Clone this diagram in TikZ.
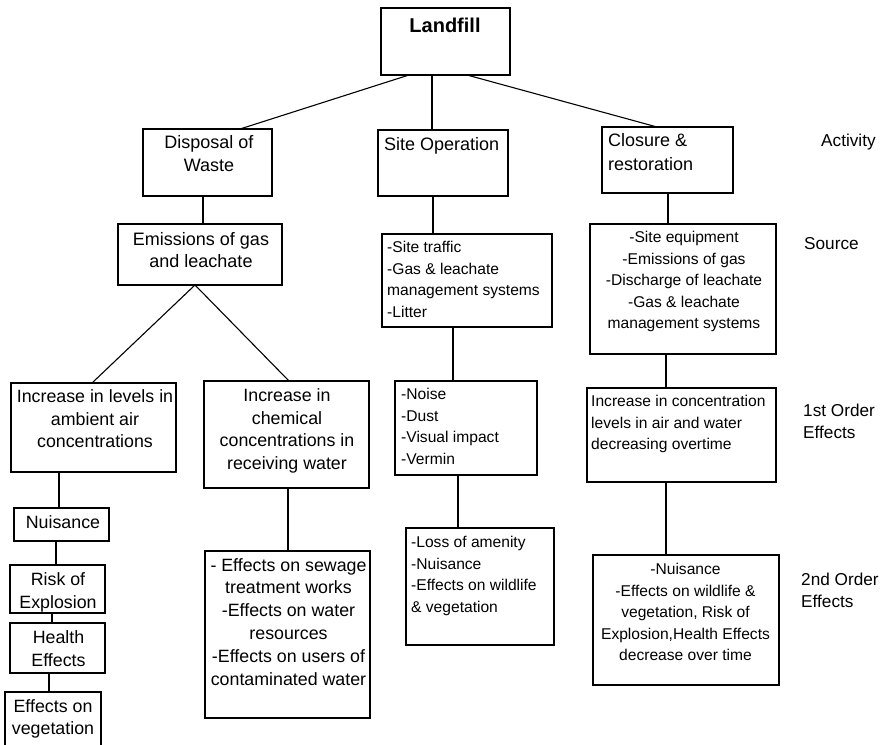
\documentclass[tikz,border=0pt]{standalone}
\usepackage{fontspec}
\setmainfont{Liberation Sans}
\begin{document}
\begin{tikzpicture}[x=1pt,y=-1pt,
  box/.style={draw, line width=1.2pt, rectangle, inner sep=0pt, outer sep=0pt, anchor=north west},
  link/.style={line width=1.1pt},
  head/.style={font=\fontsize{20}{24}\selectfont\bfseries, inner sep=0pt, anchor=north},
  activity/.style={font=\fontsize{18}{24}\selectfont, inner sep=0pt, align=left, anchor=north west},
  big/.style={font=\fontsize{17.8}{22.9}\selectfont, inner sep=0pt, align=center, anchor=north},
  list/.style={font=\fontsize{15.6}{21.5}\selectfont, inner sep=0pt, align=left, anchor=north west},
  clist/.style={font=\fontsize{15.6}{21.5}\selectfont, inner sep=0pt, align=center, anchor=north},
  level/.style={font=\fontsize{17.2}{21.7}\selectfont, inner sep=0pt, align=left, anchor=north west}]

\path[use as bounding box, clip] (0,0) rectangle (883,744);

% ---- boxes ----
\node[box, minimum width=129pt, minimum height=67pt] (landfill)   at (381,8)   {};
\node[box, minimum width=129pt, minimum height=67pt] (disposal)   at (143,129) {};
\node[box, minimum width=130pt, minimum height=66pt] (siteop)     at (378,130) {};
\node[box, minimum width=131pt, minimum height=66pt] (closure)    at (602,127) {};
\node[box, minimum width=164pt, minimum height=61pt] (emissions)  at (118,224) {};
\node[box, minimum width=170pt, minimum height=93pt] (traffic)    at (382,234) {};
\node[box, minimum width=186pt, minimum height=130pt] (source)    at (590,224) {};
\node[box, minimum width=165pt, minimum height=89pt] (airconc)    at (11,383)  {};
\node[box, minimum width=165pt, minimum height=107pt] (waterconc) at (204,381) {};
\node[box, minimum width=142pt, minimum height=94pt] (noise)      at (395,381) {};
\node[box, minimum width=189pt, minimum height=94pt] (airwater)   at (587,388) {};
\node[box, minimum width=95pt, minimum height=33pt] (nuisance)    at (14,508)  {};
\node[box, minimum width=95pt, minimum height=48pt] (explosion)   at (10,565)  {};
\node[box, minimum width=95pt, minimum height=50pt] (health)      at (10,623)  {};
\node[box, minimum width=96pt, minimum height=70pt] (vegetation)  at (5,692)   {};
\node[box, minimum width=165pt, minimum height=167pt] (sewage)    at (205,551) {};
\node[box, minimum width=148pt, minimum height=117pt] (amenity)   at (406,528) {};
\node[box, minimum width=186pt, minimum height=130pt] (decrease)  at (593,555) {};

% ---- texts ----
\node[head] (t-landfill) at (445,18) {Landfill};
\node[big, font=\fontsize{18}{22.8}\selectfont] (t-disposal) at (209,135) {Disposal of\\Waste};
\node[activity] (t-siteop) at (384,137) {Site Operation};
\node[activity] (t-closure) at (608,133) {Closure \&\\restoration};
\node[big, font=\fontsize{18}{22.7}\selectfont] (t-emissions) at (201,232) {Emissions of gas\\and leachate};
\node[list] (t-traffic) at (387,241) {-Site traffic\\-Gas \& leachate\\management systems\\-Litter};
\node[clist] (t-source) at (684,231) {-Site equipment\\-Emissions of gas\\-Discharge of leachate\\-Gas \& leachate\\management systems};
\node[big] (t-airconc) at (95,389) {Increase in levels in\\ambient air\\concentrations};
\node[big] (t-waterconc) at (287,388) {Increase in\\chemical\\concentrations in\\receiving water};
\node[list, font=\fontsize{15.6}{21.7}\selectfont] (t-noise) at (401,388) {-Noise\\-Dust\\-Visual impact\\-Vermin};
\node[list, font=\fontsize{15.6}{21.7}\selectfont] (t-airwater) at (591,395) {Increase in concentration\\levels in air and water\\decreasing overtime};
\node[big] (t-nuisance) at (63,515) {Nuisance};
\node[big] (t-explosion) at (58,572) {Risk of\\Explosion};
\node[big] (t-health) at (58.5,630) {Health\\Effects};
\node[big] (t-vegetation) at (53,699) {Effects on\\vegetation};
\node[big] (t-sewage) at (288.5,558) {- Effects on sewage\\treatment works\\-Effects on water\\resources\\-Effects on users of\\contaminated water};
\node[list, font=\fontsize{15.6}{21.7}\selectfont] (t-amenity) at (411,536) {-Loss of amenity\\-Nuisance\\-Effects on wildlife\\\& vegetation};
\node[clist] (t-decrease) at (685.5,563) {-Nuisance\\-Effects on wildlife \&\\vegetation, Risk of\\Explosion,Health Effects\\decrease over time};

% ---- level labels ----
\node[level] (l-activity) at (821,134) {Activity};
\node[level] (l-source) at (804,237) {Source};
\node[level] (l-first) at (803,404) {1st Order\\Effects};
\node[level] (l-second) at (801,573) {2nd Order\\Effects};

% ---- connectors ----
\draw[link] ([xshift=28pt]landfill.south west) -- ([xshift=97pt]disposal.north west);
\draw[link] ([xshift=51pt]landfill.south west) -- ([xshift=54pt]siteop.north west);
\draw[link] ([xshift=86pt]landfill.south west) -- ([xshift=55pt]closure.north west);
\draw[link] ([xshift=60pt]disposal.south west) -- ([xshift=85pt]emissions.north west);
\draw[link] ([xshift=55pt]siteop.south west) -- ([xshift=51pt]traffic.north west);
\draw[link] ([xshift=66pt]closure.south west) -- ([xshift=78pt]source.north west);
\draw[link] ([xshift=81pt]airconc.north west) -- ([xshift=77pt]emissions.south west)
                                                  -- ([xshift=85pt]waterconc.north west);
\draw[link] ([xshift=48pt]airconc.south west) -- ([xshift=45pt]nuisance.north west);
\draw[link] ([xshift=42pt]nuisance.south west) -- ([xshift=46pt]explosion.north west);
\draw[link] ([xshift=42pt]explosion.south west) -- ([xshift=42pt]health.north west);
\draw[link] ([xshift=39pt]health.south west) -- ([xshift=44pt]vegetation.north west);
\draw[link] ([xshift=84pt]waterconc.south west) -- ([xshift=83pt]sewage.north west);
\draw[link] ([xshift=71pt]traffic.south west) -- ([xshift=58pt]noise.north west);
\draw[link] ([xshift=63pt]noise.south west) -- ([xshift=52pt]amenity.north west);
\draw[link] ([xshift=76pt]source.south west) -- ([xshift=79pt]airwater.north west);
\draw[link] ([xshift=79pt]airwater.south west) -- ([xshift=73pt]decrease.north west);
\end{tikzpicture}
\end{document}
